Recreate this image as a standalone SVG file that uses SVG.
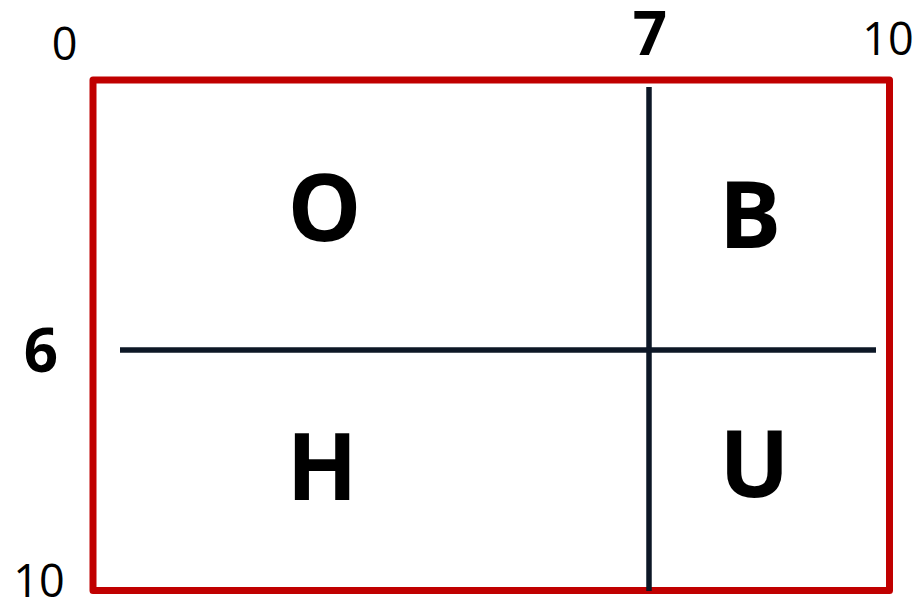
<svg xmlns="http://www.w3.org/2000/svg" width="922" height="601" viewBox="0 0 922 601">
  <style>
    .num { font-family: "Open Sans", "Liberation Sans", sans-serif; font-size: 45px; fill: #000; text-anchor: middle; }
    .numb { font-family: "Open Sans", "Liberation Sans", sans-serif; font-size: 60px; font-weight: bold; fill: #000; text-anchor: middle; }
    .lbl { font-family: "Open Sans", "Liberation Sans", sans-serif; font-size: 93px; font-weight: bold; fill: #000; text-anchor: middle; }
    .div { stroke: #0d1726; stroke-width: 5.5; fill: none; }
  </style>
  <rect width="922" height="601" fill="#ffffff"/>
  <g id="frame">
    <rect x="93" y="80" width="796.5" height="510.5" fill="none" stroke="#c00000" stroke-width="7" stroke-linejoin="round"/>
  </g>
  <g id="connectors">
    <line class="div" x1="649" y1="87" x2="649" y2="591"/>
    <line class="div" x1="120" y1="350" x2="876" y2="350"/>
  </g>
  <g id="axis-labels">
    <text class="num" x="64.5" y="60">0</text>
    <text class="numb" x="650" y="55">7</text>
    <text class="num" x="888" y="55">10</text>
    <text class="numb" x="41" y="372">6</text>
    <text class="num" x="39" y="597">10</text>
  </g>
  <g id="node-O"><text class="lbl" x="324.5" y="240.5">O</text></g>
  <g id="node-B"><text class="lbl" x="750" y="248">B</text></g>
  <g id="node-H"><text class="lbl" x="322" y="500">H</text></g>
  <g id="node-U"><text class="lbl" x="754.5" y="497">U</text></g>
</svg>
